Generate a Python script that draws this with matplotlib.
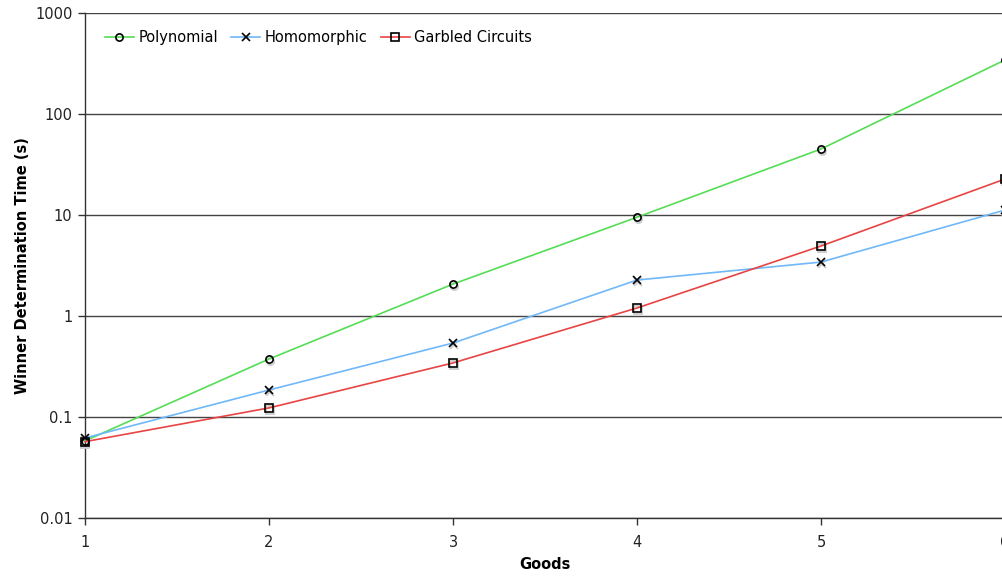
import matplotlib
matplotlib.use("Agg")
import matplotlib.pyplot as plt
import matplotlib.transforms as mtransforms
from matplotlib.ticker import FixedLocator, FixedFormatter, NullLocator

goods = [1, 2, 3, 4, 5, 6]
polynomial = [0.058, 0.375, 2.07, 9.5, 45, 343]
homomorphic = [0.062, 0.185, 0.54, 2.27, 3.42, 11.2]
garbled = [0.057, 0.123, 0.343, 1.2, 4.93, 22.7]
series_names = ["Polynomial", "Homomorphic", "Garbled Circuits"]
ytick_vals = [0.01, 0.1, 1, 10, 100, 1000]
ytick_labels = ["0.01", "0.1", "1", "10", "100", "1000"]

plt.rcParams['font.family'] = ['DejaVu Sans']

W, H = 1003, 577
fig = plt.figure(figsize=(W / 100, H / 100), dpi=100)
left, right, top, bottom = 85, 1005, 13, 518
ax = fig.add_axes([left / W, 1 - bottom / H, (right - left) / W, (bottom - top) / H])
ax.set_yscale('log')
ax.set_xlim(1, 6)
ax.set_ylim(0.01, 1000)

colors = ["#55dd55", "#70b8f8", "#e84444"]
markers = ["o", "x", "s"]
data = [polynomial, homomorphic, garbled]
msize = 5.2

shadow = mtransforms.offset_copy(ax.transData, fig=fig, x=0.5, y=-2.0, units='dots')
for vals, c, m, name in zip(data, colors, markers, series_names):
    ax.plot(goods, vals, linestyle='none', marker=m, markersize=msize,
            markerfacecolor='none', markeredgecolor='#cccccc', markeredgewidth=1.3,
            transform=shadow, zorder=3, clip_on=False)
for vals, c, m, name in zip(data, colors, markers, series_names):
    ax.plot(goods, vals, color=c, linewidth=1.2, marker=m, markersize=msize,
            markerfacecolor='none', markeredgecolor='black', markeredgewidth=1.2,
            label=name, zorder=4, clip_on=False)

ax.yaxis.set_major_locator(FixedLocator(ytick_vals))
ax.yaxis.set_major_formatter(FixedFormatter(ytick_labels))
ax.yaxis.set_minor_locator(NullLocator())
ax.set_xticks(goods)
ax.set_xticklabels([str(g) for g in goods])
ax.grid(True, axis='y', which='major', color='#444444', linewidth=1.0)
ax.set_axisbelow(True)

for s in ['top', 'right']:
    ax.spines[s].set_visible(False)
for s in ['left', 'bottom']:
    ax.spines[s].set_color('#333333')
    ax.spines[s].set_linewidth(1.0)
ax.tick_params(axis='both', direction='out', length=5, width=1.0, color='#333333',
               labelsize=10.5, labelcolor='#222222', pad=4)
ax.tick_params(axis='x', pad=7)

ax.set_xlabel("Goods", fontsize=10.5, fontweight='bold', labelpad=5)
ax.set_ylabel("Winner Determination Time (s)", fontsize=10.5, fontweight='bold', labelpad=4)

leg = ax.legend(loc='upper left', bbox_to_anchor=(0.012, 0.983), ncol=3, frameon=False,
                fontsize=10.5, handlelength=2.0, handletextpad=0.3, columnspacing=0.9,
                borderaxespad=0.2)

fig.savefig("out.png", dpi=100)
